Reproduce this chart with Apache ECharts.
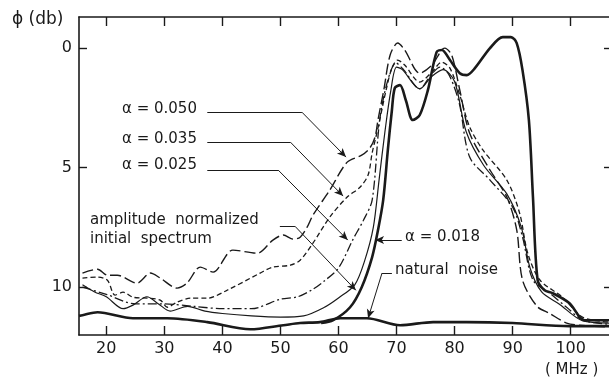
<!DOCTYPE html>
<html>
<head>
<meta charset="utf-8">
<script src="https://cdn.jsdelivr.net/npm/echarts@6/dist/echarts.min.js"></script>
<style>
  html, body { margin: 0; padding: 0; background: #fff; }
  #chart { width: 609px; height: 381px; }
</style>
</head>
<body>
<div id="chart"></div>
<script>
// frequency ticks (MHz) and level ticks (db)
var xTicks = [20, 30, 40, 50, 60, 70, 80, 90, 100];
var yTicks = [0, 5, 10];

// curves: [MHz, db]
var alpha050 = [[15.9,9.41],[18.5,9.25],[20.2,9.5],[21.9,9.5],[25.3,9.83],[27.6,9.41],[29.3,9.62],[32.2,10.04],[33.9,9.83],[36.2,9.16],[38.4,9.37],[41.8,8.45],[46.0,8.58],[48.7,8.03],[50.5,7.82],[52.2,7.99],[53.4,7.91],[54.6,7.49],[55.6,6.99],[58.5,5.94],[61.5,4.77],[64.0,4.48],[65.4,4.18],[66.3,3.72],[66.8,3.01],[67.8,1.76],[68.9,0.29],[70.2,-0.21],[71.4,0.08],[74.0,1.05],[76.1,0.71],[78.3,0],[79.5,0.29],[80.9,1.76],[82.6,3.56],[86.1,5.1],[89.0,6.23],[90.7,7.6],[91.7,9.7],[94.2,10.8],[96.4,11.1],[99.3,11.5],[102.1,11.6],[106.6,11.67]];
var alpha035 = [[15.9,9.62],[18.5,9.58],[20.2,9.71],[21.5,10.33],[22.9,10.21],[24.6,10.42],[27.1,10.46],[29.3,10.54],[30.5,10.84],[32.2,10.63],[34.5,10.46],[37.4,10.46],[40.8,10.13],[46.5,9.41],[48.7,9.16],[51.7,9.08],[53.4,8.87],[55.6,8.16],[58.5,7.07],[61.5,6.23],[63.7,5.82],[65.1,5.31],[65.8,4.39],[66.6,3.56],[67.1,3.01],[68.2,1.76],[69.2,0.84],[70.2,0.5],[71.4,0.71],[74.0,1.42],[76.1,1.0],[77.8,0.59],[79.2,0.84],[80.9,1.97],[82.6,3.3],[84.9,4.27],[89.0,5.52],[91.2,6.9],[92.6,8.58],[94.7,9.7],[98.6,10.42],[102.1,11.26],[106.6,11.46]];
var alpha025 = [[15.9,10.0],[20.0,10.3],[25.0,10.7],[30.0,10.7],[35.0,10.8],[40.0,10.9],[45.0,10.9],[50.0,10.5],[53.0,10.4],[55.5,10.1],[57.5,9.75],[60.0,9.2],[62.5,8.0],[64.3,7.2],[65.8,6.36],[67.1,3.0],[68.5,1.34],[69.9,0.62],[71.2,0.9],[74.0,1.7],[76.0,1.1],[77.5,0.8],[79.0,1.1],[80.8,2.3],[82.6,4.56],[86.1,5.52],[90.0,6.65],[91.7,7.9],[93.5,9.7],[96.4,10.25],[99.3,10.84],[102.1,11.38],[106.6,11.55]];
var alpha018 = [[57.0,11.5],[59.1,11.38],[62.0,10.84],[64.0,10.0],[65.8,8.74],[66.8,7.62],[67.7,6.36],[68.5,4.27],[69.2,2.6],[69.7,1.67],[70.6,1.55],[71.6,2.18],[72.8,3.01],[74.0,2.8],[75.4,1.76],[76.9,0.17],[77.8,0.08],[79.2,0.5],[80.9,1.05],[82.1,1.13],[83.5,0.84],[86.1,0],[88.3,-0.46],[89.7,-0.46],[90.7,-0.21],[91.7,0.92],[92.8,3.01],[93.5,6.23],[94.3,9.7],[95.5,10.13],[96.9,10.25],[99.8,10.67],[102.4,11.38],[106.6,11.38]];
var initialSpectrum = [[15.9,9.9],[18.0,10.2],[20.0,10.4],[22.9,10.9],[24.6,10.75],[27.0,10.4],[29.0,10.7],[31.0,11.0],[34.0,10.8],[37.0,11.0],[40.0,11.1],[45.0,11.2],[50.0,11.25],[54.0,11.2],[57.5,10.85],[60.0,10.45],[62.8,9.9],[64.5,8.9],[66.0,7.5],[67.0,5.5],[68.0,3.5],[69.0,1.8],[70.0,0.8],[71.0,0.9],[74.0,1.7],[76.0,1.2],[78.0,0.9],[80.0,1.4],[82.0,3.5],[85.0,4.9],[89.0,6.1],[91.5,7.5],[93.0,9.2],[95.0,10.2],[98.0,10.7],[102.0,11.4],[106.6,11.5]];
var naturalNoise = [[15.3,11.2],[15.9,11.17],[18.5,11.05],[24.6,11.3],[30.5,11.3],[37.4,11.46],[44.8,11.76],[50.5,11.59],[53.4,11.5],[56.8,11.46],[60.3,11.3],[64.9,11.3],[70.6,11.59],[76.3,11.46],[82.1,11.46],[90.0,11.5],[99.8,11.63],[106.6,11.63]];

// leader lines for the labels: [from, to, arrow at end]
var leaders = [
  [[37.4,2.68],[53.7,2.68],false],[[53.7,2.68],[61.3,4.56],true],
  [[37.4,3.93],[51.7,3.93],false],[[51.7,3.93],[60.8,6.19],true],
  [[37.4,5.1],[49.6,5.1],false],[[49.6,5.1],[61.6,8.03],true],
  [[49.9,7.45],[52.5,7.45],false],[[52.5,7.45],[63.0,10.13],true],
  [[70.9,8.03],[66.3,8.03],true],
  [[69.2,9.41],[67.5,9.41],false],[[67.5,9.41],[65.1,11.3],true]
];

var ink = "#1a1a1a";
var myChart = echarts.init(document.getElementById("chart"));

function curve(name, data, width, dash) {
  return {
    name: name,
    type: "line",
    data: data,
    smooth: 0.3,
    symbol: "none",
    xAxisIndex: 0,
    yAxisIndex: 0,
    lineStyle: { color: ink, width: width, type: dash },
    z: 3
  };
}

var markData = leaders.map(function (l) {
  return [
    { coord: l[0], symbol: "none" },
    { coord: l[1], symbol: l[2] ? "arrow" : "none", symbolSize: [6, 9] }
  ];
});

var textStyle = { fill: ink, fontSize: 16, fontFamily: "DejaVu Sans", textVerticalAlign: "middle" };
function txt(x, y, s, size) {
  return {
    type: "text", left: x, top: y - 10,
    style: Object.assign({}, textStyle, { text: s, fontSize: size || 16 })
  };
}

var option = {
  animation: false,
  backgroundColor: "#fff",
  grid: { left: 79, right: 0, top: 17, bottom: 46 },
  xAxis: [
    {
      type: "value", position: "bottom", min: 15.3, max: 106.6,
      axisLine: { show: true, onZero: false, lineStyle: { color: ink, width: 1.6 } },
      axisTick: { show: true, inside: true, length: 9, customValues: xTicks, lineStyle: { color: ink, width: 1.4 } },
      axisLabel: { show: true, customValues: xTicks, color: ink, fontSize: 16, fontFamily: "DejaVu Sans", margin: 6 },
      splitLine: { show: false }
    },
    {
      type: "value", position: "top", min: 15.3, max: 106.6,
      axisLine: { show: true, onZero: false, lineStyle: { color: ink, width: 1.6 } },
      axisTick: { show: true, inside: true, length: 9, customValues: xTicks, lineStyle: { color: ink, width: 1.4 } },
      axisLabel: { show: false },
      splitLine: { show: false }
    }
  ],
  yAxis: [
    {
      type: "value", position: "left", inverse: true, min: -1.3, max: 12,
      axisLine: { show: true, onZero: false, lineStyle: { color: ink, width: 1.6 } },
      axisTick: { show: true, inside: true, length: 8, customValues: yTicks, lineStyle: { color: ink, width: 1.4 } },
      axisLabel: { show: true, customValues: yTicks, color: ink, fontSize: 16, fontFamily: "DejaVu Sans", margin: 7 },
      splitLine: { show: false }
    },
    {
      type: "value", position: "right", inverse: true, min: -1.3, max: 12,
      axisLine: { show: false, onZero: false },
      axisTick: { show: true, inside: true, length: 5, customValues: yTicks, lineStyle: { color: ink, width: 1.4 } },
      axisLabel: { show: false },
      splitLine: { show: false }
    }
  ],
  series: [
    curve("natural noise", naturalNoise, 2.6, "solid"),
    curve("initial spectrum", initialSpectrum, 1.2, "solid"),
    curve("α = 0.025", alpha025, 1.3, [9, 3, 2, 3]),
    curve("α = 0.035", alpha035, 1.3, [5, 3]),
    curve("α = 0.050", alpha050, 1.4, [11, 4]),
    curve("α = 0.018", alpha018, 2.6, "solid"),
    {
      name: "leaders", type: "line", data: [], xAxisIndex: 0, yAxisIndex: 0,
      markLine: {
        silent: true, animation: false,
        label: { show: false },
        lineStyle: { color: ink, width: 1, type: "solid" },
        emphasis: { disabled: true },
        data: markData
      }
    }
  ],
  graphic: [
    txt(12, 21, "ϕ (db)", 17),
    txt(122, 112, "α = 0.050", 15),
    txt(122, 142, "α = 0.035", 15),
    txt(122, 168, "α = 0.025", 15),
    txt(90, 223, "amplitude  normalized", 15),
    txt(90, 242, "initial  spectrum", 15),
    txt(405, 240, "α = 0.018", 15),
    txt(395, 273, "natural  noise", 15),
    txt(545, 373, "( MHz )", 15)
  ]
};

myChart.setOption(option);
window.addEventListener("resize", function () {
  myChart.resize();
});
</script>
</body>
</html>
